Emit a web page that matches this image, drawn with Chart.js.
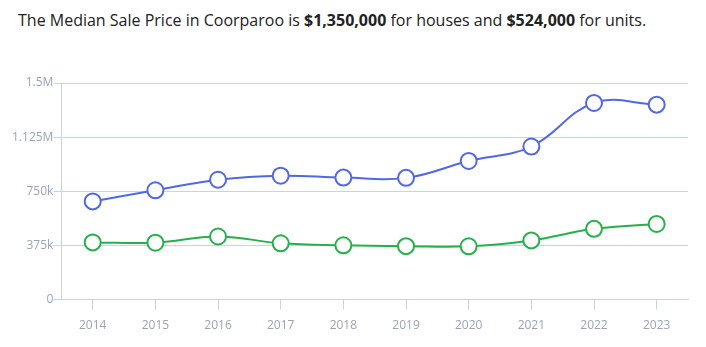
<!DOCTYPE html>
<html>
<head>
<meta charset="utf-8">
<script src="https://cdn.jsdelivr.net/npm/chart.js@4"></script>
<style>
  body { margin: 0; background: #fff; font-family: "Open Sans", sans-serif; }
  .title { height: 44px; padding-left: 18px; font-size: 16px; line-height: 40px; color: #222; }
  .title b { font-weight: 700; }
  .wrap { position: relative; width: 706px; height: 303px; }
</style>
</head>
<body>
<div class="title">The Median Sale Price in Coorparoo is <b>$1,350,000</b> for houses and <b>$524,000</b> for units.</div>
<div class="wrap"><canvas id="priceChart"></canvas></div>
<script>
/* Медианная цена: дома и юниты */
const years = ['2014', '2015', '2016', '2017', '2018', '2019', '2020', '2021', '2022', '2023'];
const houses = [680000, 757000, 830000, 858000, 845000, 843000, 960000, 1060000, 1362000, 1350000];
const units = [396000, 394000, 437000, 390000, 376000, 370000, 369000, 410000, 490000, 524000];
const yTicks = ['0', '375k', '750k', '1.125M', '1.5M'];

const gridColor = '#c9d4e2';
const tickColor = '#9aa3ba';

const ctx = document.getElementById('priceChart').getContext('2d');
const priceChart = new Chart(ctx, {
  type: 'line',
  data: {
    labels: years,
    datasets: [{
      label: 'Houses',
      data: houses,
      borderColor: '#5068e6',
      backgroundColor: '#ffffff',
      borderWidth: 2,
      pointRadius: 8,
      pointHoverRadius: 8,
      pointBorderWidth: 2,
      tension: 0.4
    }, {
      label: 'Units',
      data: units,
      borderColor: '#25b14a',
      backgroundColor: '#ffffff',
      borderWidth: 2,
      pointRadius: 8,
      pointHoverRadius: 8,
      pointBorderWidth: 2,
      tension: 0.4
    }]
  },
  options: {
    responsive: true,
    maintainAspectRatio: false,
    animation: false,
    layout: { padding: { left: 12, right: 18, top: 39, bottom: 5 } },
    plugins: {
      legend: { display: false },
      tooltip: { enabled: false }
    },
    scales: {
      x: {
        offset: true,
        grid: { drawOnChartArea: false, color: gridColor, tickLength: 10 },
        border: { color: gridColor },
        ticks: { color: tickColor, font: { family: 'Open Sans', size: 12 }, padding: 9 }
      },
      y: {
        min: 0,
        max: 1500000,
        grid: { color: gridColor, tickLength: 8 },
        border: { color: gridColor },
        ticks: {
          stepSize: 375000,
          color: tickColor,
          font: { family: 'Open Sans', size: 12 },
          padding: 0,
          callback: function(value, index) {
            return yTicks[index];
          }
        }
      }
    }
  }
});
</script>
</body>
</html>
